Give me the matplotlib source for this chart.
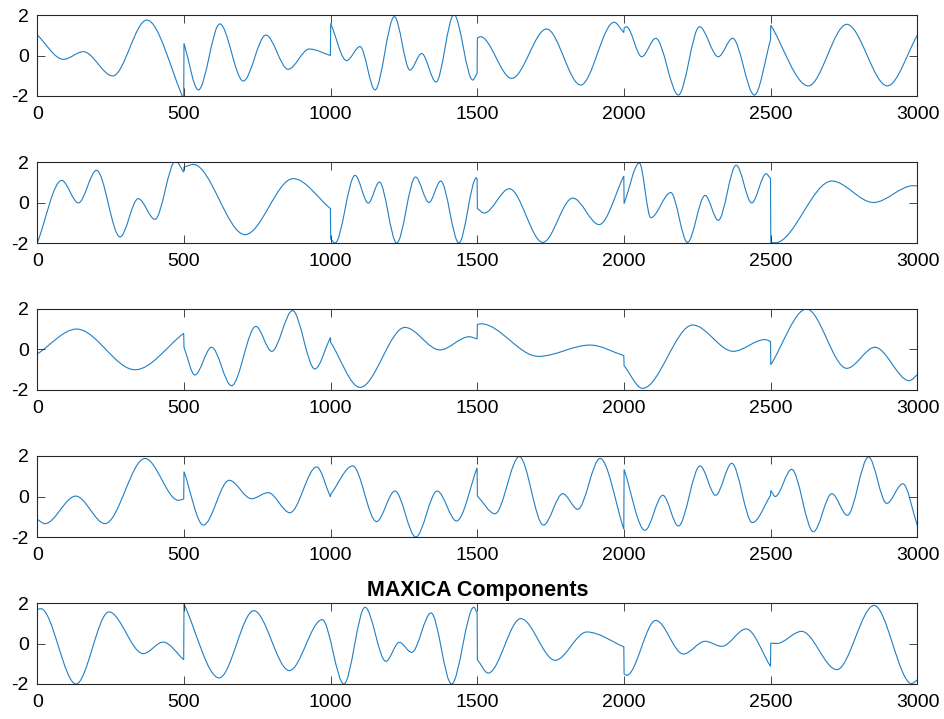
import numpy as np
import matplotlib
matplotlib.use("Agg")
import matplotlib.pyplot as plt
from matplotlib.path import Path
from matplotlib.patches import PathPatch

plt.rcParams['font.family'] = ['Liberation Sans', 'DejaVu Sans']
plt.rcParams['axes.unicode_minus'] = False

# turning points of each component (sample index, value); pairs one sample
# apart mark the jumps between the 500-sample blocks
comp1_x = [0, 89, 157, 257, 373, 499, 500, 549, 622, 702, 779, 855, 927, 999, 1000,
           1054, 1100, 1151, 1217, 1270, 1310, 1359, 1420, 1484, 1499, 1500, 1510, 1617,
           1736, 1852, 1966, 1999, 2000, 2008, 2060, 2108, 2185, 2257, 2321, 2370, 2444,
           2499, 2500, 2628, 2759, 2897, 3000]
comp1_y = [1.01, -0.19, 0.19, -1.01, 1.75, -2.15, 0.6, -1.7, 1.56, -1.26, 1.01, -0.68, 0.32,
           0.0, 1.59, -0.25, 0.44, -1.70, 1.92, -0.72, 0.1, -1.31, 2.02, -1.21, -0.88, 0.87,
           0.93, -1.13, 1.31, -1.46, 1.64, 1.13, 1.35, 1.42, -0.06, 0.85, -1.95, 1.42, -0.06,
           0.85, -1.95, 0.77, 1.5, -1.5, 1.54, -1.5, 1.01]

comp2_x = [0, 83, 140, 202, 282, 344, 401, 471, 499, 500, 532, 708, 872, 999, 1000, 1015,
           1083, 1128, 1166, 1225, 1289, 1335, 1375, 1437, 1497, 1499, 1500, 1523, 1609,
           1723, 1825, 1915, 1999, 2000, 2052, 2091, 2159, 2216, 2276, 2321, 2382, 2435,
           2484, 2499, 2500, 2515, 2708, 2850, 2985, 3000]
comp2_y = [-2.0, 1.09, -0.02, 1.59, -1.70, 0.19, -0.83, 2.05, 1.5, 1.75, 1.88, -1.59, 1.18,
           -0.3, -1.8, -2.0, 1.34, -0.03, 1.01, -2.0, 1.26, 0.0, 1.06, -2.0, 1.22, 1.15, -0.3,
           -0.52, 0.68, -1.97, 0.22, -1.09, 1.31, -0.06, 1.95, -0.75, 0.49, -1.97, 0.35,
           -0.88, 1.84, -0.02, 1.42, 1.18, -1.97, -1.99, 1.06, 0.0, 0.83, 0.82]

comp3_x = [0, 134, 333, 499, 500, 537, 594, 662, 745, 799, 870, 946, 999, 1000, 1100, 1253,
           1372, 1472, 1499, 1500, 1512, 1708, 1884, 1999, 2000, 2063, 2234, 2372, 2480,
           2499, 2500, 2622, 2759, 2855, 2972, 3000]
comp3_y = [-0.22, 1.01, -1.0, 0.8, 0.1, -1.26, 0.11, -1.79, 1.14, -0.09, 1.92, -0.96, 0.6,
           0.35, -1.87, 1.09, -0.02, 0.63, 0.52, 1.23, 1.27, -0.34, 0.22, -0.3, -0.8, -1.92,
           1.21, -0.09, 0.49, 0.4, -0.75, 2.0, -0.93, 0.11, -1.54, -1.24]

comp4_x = [0, 26, 131, 231, 367, 481, 499, 500, 566, 654, 730, 787, 861, 952, 999, 1000,
           1075, 1156, 1219, 1290, 1363, 1429, 1499, 1500, 1560, 1643, 1725, 1791, 1842,
           1918, 1999, 2000, 2071, 2132, 2185, 2259, 2312, 2367, 2437, 2499, 2500, 2515,
           2571, 2645, 2708, 2761, 2833, 2895, 2950, 3000]
comp4_y = [-1.13, -1.34, 0.02, -1.34, 1.88, -0.19, -0.12, 1.23, -1.41, 0.8, -0.11, 0.19,
           -0.8, 1.46, -0.02, 0.1, 1.51, -1.24, 0.27, -2.0, 0.27, -1.21, 1.42, 0.02, -0.85,
           1.97, -1.41, 0.14, -0.63, 1.88, -1.62, 1.34, -1.67, 0.06, -1.46, 1.51, 0.06, 1.64,
           -1.29, 0.05, 0.3, 0.0, 1.34, -1.74, 0.14, -0.93, 1.95, -0.34, 0.63, -1.46]

comp5_x = [0, 12, 132, 244, 361, 429, 499, 500, 620, 738, 859, 971, 1045, 1117, 1188, 1234,
           1276, 1342, 1412, 1488, 1499, 1500, 1537, 1648, 1765, 1873, 1999, 2000, 2009,
           2108, 2202, 2276, 2333, 2416, 2499, 2500, 2520, 2605, 2725, 2852, 2980, 3000]
comp5_y = [1.68, 1.72, -2.0, 1.56, -0.5, 0.07, -0.8, 1.95, -1.7, 1.62, -1.34, 1.18, -2.0,
           1.79, -0.88, 0.06, -0.44, 1.51, -2.0, 1.79, 1.5, -0.8, -1.46, 1.23, -0.83, 0.57,
           -0.16, -1.5, -1.57, 1.14, -0.52, 0.11, -0.14, 0.72, -1.13, 0.02, 0.0, 0.6, -1.29,
           1.88, -1.98, -1.79]

components = [(comp1_x, comp1_y), (comp2_x, comp2_y), (comp3_x, comp3_y),
              (comp4_x, comp4_y), (comp5_x, comp5_y)]

x_ticks = [0, 500, 1000, 1500, 2000, 2500, 3000]
y_ticks = [-2, 0, 2]


def component_path(xs, ys):
    """Smooth curve through the turning points: flat tangent at peaks and
    troughs, chord tangent at block ends, straight line across a jump."""
    xs = np.asarray(xs, float)
    ys = np.asarray(ys, float)
    n = len(xs)
    slope = np.zeros(n)
    for i in range(n):
        jump_before = i == 0 or xs[i] - xs[i - 1] <= 1.5
        jump_after = i == n - 1 or xs[i + 1] - xs[i] <= 1.5
        if jump_before and not jump_after:
            slope[i] = (ys[i + 1] - ys[i]) / (xs[i + 1] - xs[i])
        elif jump_after and not jump_before:
            slope[i] = (ys[i] - ys[i - 1]) / (xs[i] - xs[i - 1])
    verts = [(xs[0], ys[0])]
    codes = [Path.MOVETO]
    for i in range(n - 1):
        dx = xs[i + 1] - xs[i]
        if dx <= 1.5:
            verts.append((xs[i + 1], ys[i + 1]))
            codes.append(Path.LINETO)
        else:
            h = dx / 3
            verts += [(xs[i] + h, ys[i] + slope[i] * h),
                      (xs[i + 1] - h, ys[i + 1] - slope[i + 1] * h),
                      (xs[i + 1], ys[i + 1])]
            codes += [Path.CURVE4] * 3
    return Path(verts, codes)


W, H = 945, 719
fig = plt.figure(figsize=(W / 100, H / 100), dpi=100)

for i, (cx, cy) in enumerate(components):
    top = 15 + 147 * i
    bottom = 96 + 147 * i
    ax = fig.add_axes([37.3 / W, 1 - bottom / H, 880.2 / W, (bottom - top) / H])
    ax.add_patch(PathPatch(component_path(cx, cy), fill=False,
                           edgecolor='#1f7fc4', linewidth=0.8))
    ax.set_xlim(0, 3000)
    ax.set_ylim(-2, 2)
    ax.set_xticks(x_ticks)
    ax.set_yticks(y_ticks)
    ax.tick_params(direction='in', length=6, width=0.6, color='#262626',
                   labelsize=14, labelcolor='black', top=True, right=True)
    ax.tick_params(axis='x', pad=7)
    ax.tick_params(axis='y', pad=6)
    for s in ax.spines.values():
        s.set_color('#262626')
        s.set_linewidth(0.8)
    if i == 4:
        ax.set_title('MAXICA Components', fontsize=15.5, fontweight='bold', pad=5)

fig.savefig('out.png', dpi=100)
